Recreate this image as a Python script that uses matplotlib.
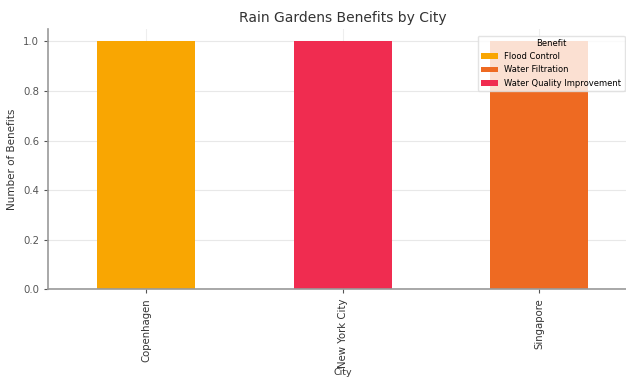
import numpy as np
import pandas as pd
import matplotlib.pyplot as plt

# Data
cities = ['Copenhagen', 'New York City', 'Singapore']
benefits = ['Flood Control', 'Water Filtration', 'Water Quality Improvement']
flood_control = [1, 0, 0]
water_filtration = [0, 0, 1]
water_quality = [0, 1, 0]

colors = ['#F9A602', '#EE6A22', '#F02C50']

df = pd.DataFrame({'Flood Control': flood_control,
                   'Water Filtration': water_filtration,
                   'Water Quality Improvement': water_quality}, index=cities)
df.index.name = 'City'

fig = plt.figure(figsize=(6.26, 3.77), dpi=100)
ax = fig.add_axes([0.077, 0.233, 0.941, 0.69])

df.plot(kind='bar', stacked=True, ax=ax, color=colors, width=0.5)

ax.set_title('Rain Gardens Benefits by City', fontsize=10, color='#333333', pad=5)
ax.set_xlabel('City', fontsize=6.8, color='#333333')
ax.xaxis.set_label_coords(0.5, -0.302)
ax.set_ylabel('Number of Benefits', fontsize=7.5, color='#333333')
ax.tick_params(axis='both', labelsize=7.3, colors='#555555', length=3)
for lbl in ax.get_xticklabels():
    lbl.set_color('#333333')
ax.set_ylim(0, 1.05)
ax.grid(axis='y', color='#E8E8E8', linewidth=0.8)
ax.grid(axis='x', color='#EEEEEE', linewidth=0.8)
ax.set_axisbelow(True)
for s in ['top', 'right']:
    ax.spines[s].set_visible(False)
for s in ['left', 'bottom']:
    ax.spines[s].set_color('#999999')
    ax.spines[s].set_linewidth(1.2)

leg = ax.legend(title='Benefit', fontsize=6, title_fontsize=6,
                loc='upper left', bbox_to_anchor=(0.722, 0.99),
                framealpha=0.8, edgecolor='#DDDDDD')

fig.savefig('out.png', dpi=100)
